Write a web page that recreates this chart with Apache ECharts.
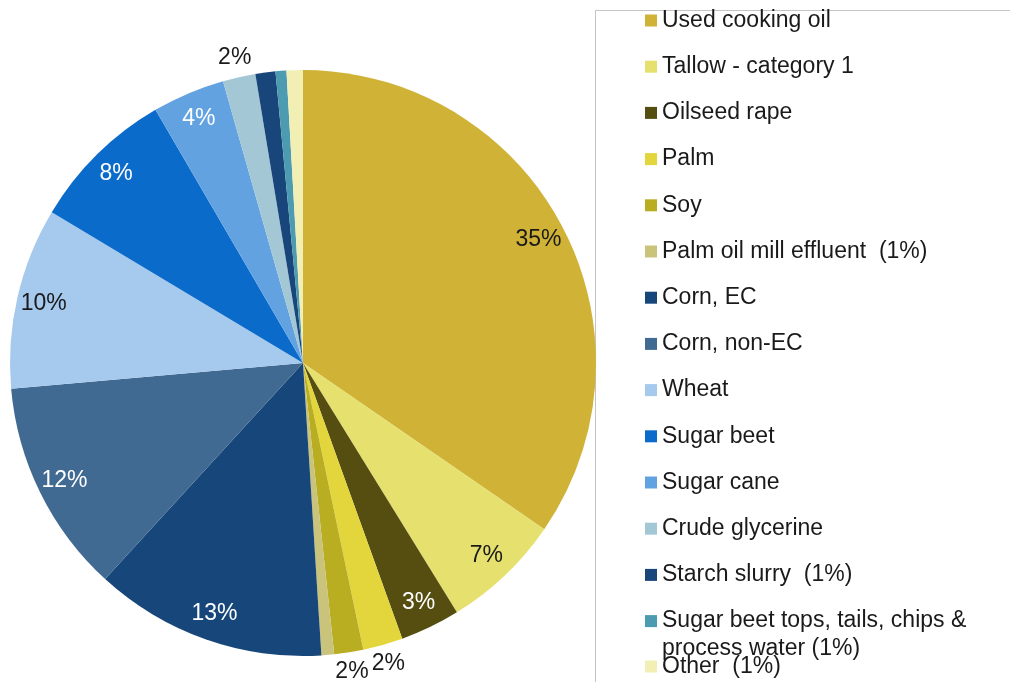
<!DOCTYPE html>
<html>
<head>
<meta charset="utf-8">
<script src="https://cdn.jsdelivr.net/npm/echarts@6/dist/echarts.min.js"></script>
<style>
  html, body { margin: 0; padding: 0; background: #fff; }
  #chart { width: 1010px; height: 682px; }
</style>
</head>
<body>
<div id="chart"></div>
<script>
// feedstock shares, clockwise from 12 o'clock
const categories = [
    "Used cooking oil",
    "Tallow - category 1",
    "Oilseed rape",
    "Palm",
    "Soy",
    "Palm oil mill effluent  (1%)",
    "Corn, EC",
    "Corn, non-EC",
    "Wheat",
    "Sugar beet",
    "Sugar cane",
    "Crude glycerine",
    "Starch slurry  (1%)",
    "Sugar beet tops, tails, chips & process water (1%)",
    "Other  (1%)",
];
const shares = [34.6, 6.6, 3.3, 2.2, 1.6, 0.7, 12.8, 11.8, 10.0, 8.0, 4.0, 1.8, 1.1, 0.6, 0.9];

// which slices carry a % label, and where
const insideLabels = ["Used cooking oil", "Tallow - category 1", "Oilseed rape", "Corn, EC", "Corn, non-EC", "Wheat", "Sugar beet", "Sugar cane"];
const outsideLabels = ["Palm", "Soy", "Crude glycerine"];

const colors = {
    "Used cooking oil": "#cfb236",
    "Tallow - category 1": "#e6e06e",
    "Oilseed rape": "#554e10",
    "Palm": "#e3d63c",
    "Soy": "#b9ad22",
    "Palm oil mill effluent  (1%)": "#c9c37b",
    "Corn, EC": "#17467a",
    "Corn, non-EC": "#416a93",
    "Wheat": "#a6c9ee",
    "Sugar beet": "#0b6bcb",
    "Sugar cane": "#62a2e1",
    "Crude glycerine": "#a4c7d6",
    "Starch slurry  (1%)": "#18467b",
    "Sugar beet tops, tails, chips & process water (1%)": "#4d9bb1",
    "Other  (1%)": "#f2efb4",
};
const whiteText = ["Oilseed rape", "Corn, EC", "Corn, non-EC", "Sugar beet", "Sugar cane"];

const FONT = "'Liberation Sans', Arial, sans-serif";
const CENTER = [303, 363];
const R = 293;

const chart = echarts.init(document.getElementById("chart"));

const pctLabel = (p) => Math.round(p.percent) + "%";

function labelRing(list, radius) {
    return {
        type: "pie",
        silent: true,
        center: CENTER,
        radius: radius,
        startAngle: 90,
        clockwise: true,
        avoidLabelOverlap: false,
        itemStyle: { color: "rgba(0,0,0,0)" },
        labelLine: { show: false },
        emphasis: { disabled: true },
        data: categories.map((name, i) => ({
            name: name,
            value: shares[i],
            label: {
                show: list.indexOf(name) >= 0,
                position: "inside",
                formatter: pctLabel,
                color: whiteText.indexOf(name) >= 0 ? "#ffffff" : "#1a1a1a",
                fontSize: 23,
                fontFamily: FONT,
            },
        })),
    };
}

const legendText = {
    color: "#1a1a1a",
    fontSize: 23,
    fontFamily: FONT,
    lineHeight: 23,
    rich: {
        a: { fontSize: 23, fontFamily: FONT, color: "#1a1a1a", lineHeight: 23 },
        b: { fontSize: 23, fontFamily: FONT, color: "#1a1a1a", lineHeight: 0, height: 32, verticalAlign: "top" },
    },
};

const option = {
    animation: false,
    backgroundColor: "#ffffff",
    graphic: [
        {
            type: "rect",
            silent: true,
            shape: { x: 595.5, y: 10.5, width: 500, height: 700 },
            style: { fill: "none", stroke: "#c4c4c4", lineWidth: 1 },
        },
    ],
    legend: [
        {
            orient: "vertical",
            left: 645,
            top: 9,
            padding: 0,
            itemGap: 23.2,
            itemWidth: 12,
            itemHeight: 12,
            icon: "rect",
            textStyle: legendText,
            data: categories.slice(0, 14),
            formatter: function (name) {
                if (name.indexOf("Sugar beet tops") === 0) {
                    return "{a|Sugar beet tops, tails, chips &}\n{b|process water (1%)}";
                }
                return name;
            },
        },
        {
            orient: "vertical",
            left: 645,
            top: 655,
            padding: 0,
            itemWidth: 12,
            itemHeight: 12,
            icon: "rect",
            textStyle: legendText,
            data: categories.slice(14),
        },
    ],
    series: [
        {
            type: "pie",
            silent: true,
            center: CENTER,
            radius: R,
            startAngle: 90,
            clockwise: true,
            label: { show: false },
            labelLine: { show: false },
            itemStyle: { borderWidth: 0 },
            data: categories.map((name, i) => ({
                name: name,
                value: shares[i],
                itemStyle: { color: colors[name] },
            })),
        },
        labelRing(insideLabels, [R - 60, R]),
        labelRing(outsideLabels, [R, R + 34]),
    ],
};

chart.setOption(option);
</script>
</body>
</html>
